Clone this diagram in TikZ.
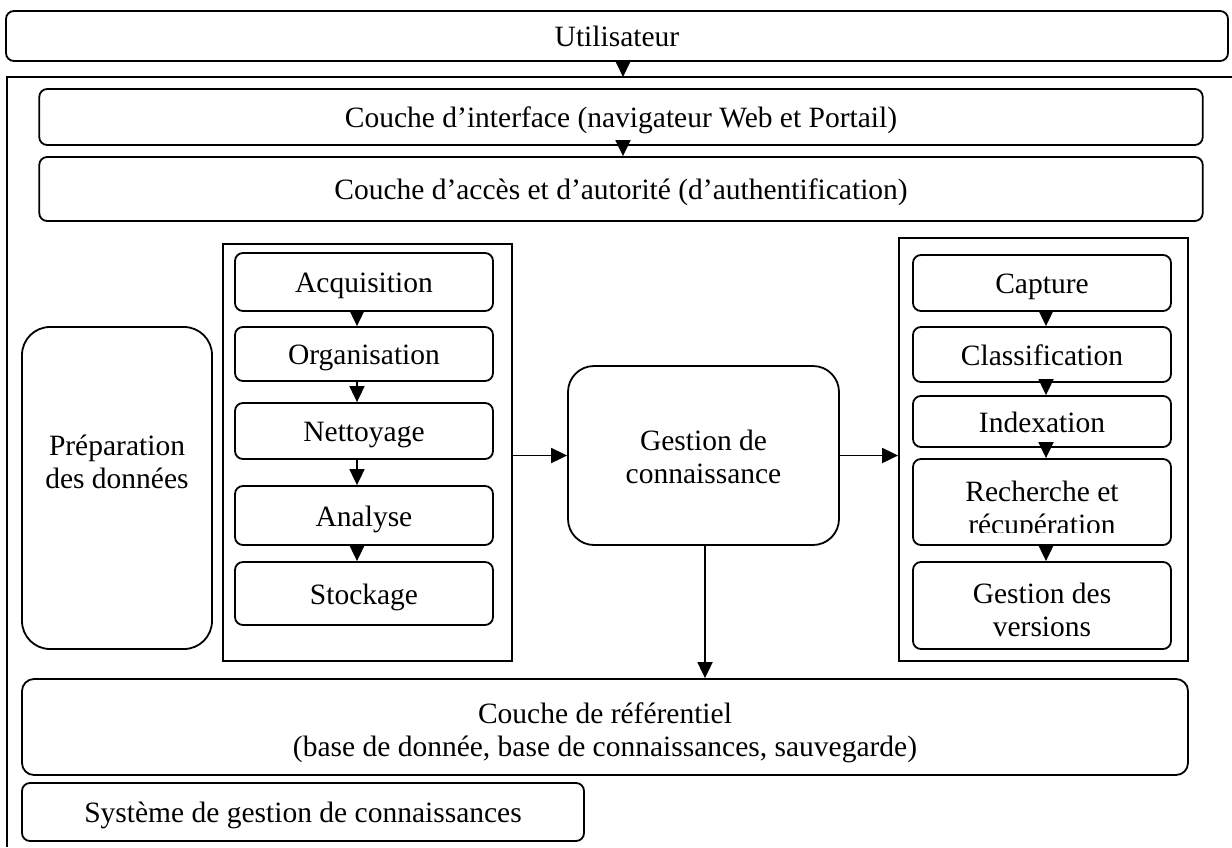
\documentclass[tikz,border=0pt]{standalone}
\usepackage{fontspec}
\setmainfont{Liberation Serif}
\usetikzlibrary{arrows.meta}

\begin{document}
\begin{tikzpicture}[x=.5pt, y=-.5pt, line width=.9pt,
  every node/.style={font=\fontsize{14.75}{16.5}\selectfont, align=center},
  box/.style={draw, rounded corners=4pt, inner sep=0pt},
  one/.style={box, text height=1.08em, text depth=0pt},
  bigbox/.style={draw, rounded corners=13pt, inner sep=0pt},
  colbox/.style={draw, inner sep=0pt},
  arr/.style={-{Triangle[length=8pt, width=7.5pt]}}]
  \useasboundingbox (0,0) rectangle (1232,847);
  % user and outer frame
  \node [one, minimum width=611pt, minimum height=25pt] (user) at (617,36) {Utilisateur};
  \draw (7,847) -- (7,77) -- (1232,77);
  \coordinate (ftop) at (623,77);
  \draw [arr] (user.south -| ftop) -- (ftop);
  \node [one, minimum width=581.75pt, minimum height=28pt] (iface) at (621,117)
    {Couche d’interface (navigateur Web et Portail)};
  \node [one, minimum width=581.75pt, minimum height=32pt] (access) at (621,189)
    {Couche d’accès et d’autorité (d’authentification)};
  \draw [arr] (iface.south -| ftop) -- (access.north -| ftop);
  % preparation
  \node [bigbox, rounded corners=14pt, minimum width=95pt, minimum height=161pt] (prep) at (117,488) {};
  \node (preptxt) at (117,462) {Préparation\\des données};
  % left column
  \node [colbox, minimum width=144.5pt, minimum height=208.5pt] (lcol) at (367.5,452.5) {};
  \node [one, minimum width=129pt, minimum height=29pt] (acq) at (364,282) {Acquisition};
  \node [one, minimum width=129pt, minimum height=27pt] (org) at (364,354) {Organisation};
  \node [one, minimum width=129pt, minimum height=28pt] (net) at (364,431) {Nettoyage};
  \node [one, minimum width=129pt, minimum height=29.5pt] (ana) at (364,515.5) {Analyse};
  \node [one, minimum width=129pt, minimum height=31.5pt] (sto) at (364,593.5) {Stockage};
  \coordinate (lx) at (357,0);
  \draw [arr] (acq.south -| lx) -- (org.north -| lx);
  \draw [arr] (org.south -| lx) -- (net.north -| lx);
  \draw [arr] (net.south -| lx) -- (ana.north -| lx);
  \draw [arr] (ana.south -| lx) -- (sto.north -| lx);
  % knowledge management
  \node [bigbox, minimum width=135.5pt, minimum height=89.5pt] (gest) at (703.5,455.5) {};
  \node (gesttxt) at (703.5,457) {Gestion de\\connaissance};
  \draw [arr] (lcol.east |- gest.west) -- (gest.west);
  % right column
  \node [colbox, minimum width=144.5pt, minimum height=211.5pt] (rcol) at (1043.5,449.5) {};
  \draw [arr] (gest.east) -- (rcol.west |- gest.east);
  \node [one, minimum width=129pt, minimum height=28pt] (cap) at (1042,283) {Capture};
  \node [one, minimum width=129pt, minimum height=27.5pt] (cla) at (1042,354.5) {Classification};
  \node [one, minimum width=129pt, minimum height=25.5pt] (idx) at (1042,421.5) {Indexation};
  \node [box, minimum width=129pt, minimum height=43pt] (rech) at (1042,502) {};
  \begin{scope}
    \clip (913,459) rectangle (1171,532);
    \node (rechtxt) at (1042,511) {Recherche et\\récupération};
  \end{scope}
  \node [box, minimum width=129pt, minimum height=43.5pt] (ver) at (1042,605.5) {};
  \node (vertxt) at (1042,610) {Gestion des\\versions};
  \coordinate (rx) at (1046,0);
  \draw [arr] (cap.south -| rx) -- (cla.north -| rx);
  \draw [arr] (cla.south -| rx) -- (idx.north -| rx);
  \draw [arr] (idx.south -| rx) -- (rech.north -| rx);
  \draw [arr] (rech.south -| rx) -- (ver.north -| rx);
  % repository and system
  \node [box, rounded corners=6pt, minimum width=583pt, minimum height=48pt] (ref) at (605,727) {};
  \node (reftxt) at (605,733) {Couche de référentiel\\(base de donnée, base de connaissances, sauvegarde)};
  \coordinate (gx) at (705,0);
  \draw [arr] (gest.south -| gx) -- (ref.north -| gx);
  \node [one, minimum width=281pt, minimum height=29pt] (sys) at (303,812)
    {Système de gestion de connaissances};
\end{tikzpicture}
\end{document}
